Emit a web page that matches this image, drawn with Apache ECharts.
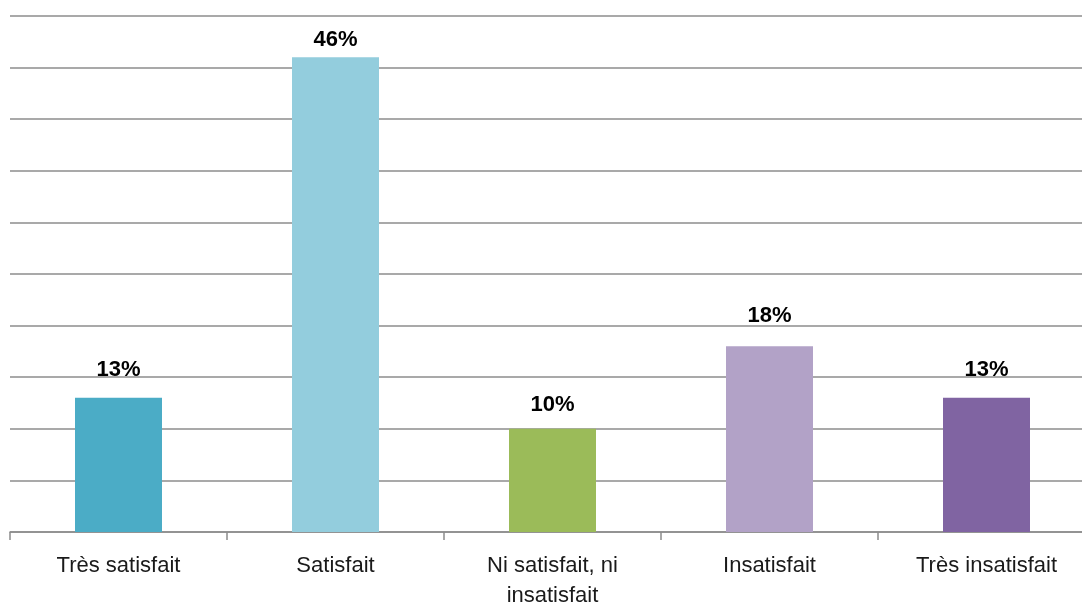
<!DOCTYPE html>
<html><head><meta charset="utf-8">
<script src="https://cdn.jsdelivr.net/npm/echarts@6/dist/echarts.min.js"></script>
<style>html,body{margin:0;padding:0;background:#fff}#c{width:1082px;height:606px}</style>
</head><body><div id="c"></div>
<script>
const categories = ['Très satisfait', 'Satisfait', 'Ni satisfait, ni\ninsatisfait', 'Insatisfait', 'Très insatisfait'];
const values = [13, 46, 10, 18, 13];
const colors = ['#4BACC6', '#93CDDD', '#9BBB59', '#B2A2C7', '#8064A2'];
const yTicks = [0, 5, 10, 15, 20, 25, 30, 35, 40, 45, 50];
const labelGaps = [17, 6, 13, 19, 17];

const font = '"Liberation Sans", Arial, sans-serif';
const chart = echarts.init(document.getElementById('c'));
chart.setOption({
  animation: false,
  grid: { left: 10, top: 16, right: -13, bottom: 74, containLabel: false, outerBoundsMode: 'none' },
  xAxis: {
    type: 'category', data: categories,
    axisLine: { lineStyle: { color: '#8c8c8c', width: 1.5 } },
    axisTick: { show: true, length: 8, lineStyle: { color: '#8c8c8c', width: 1.5 } },
    axisLabel: { color: '#1a1a1a', fontFamily: font, fontSize: 22, margin: 19, lineHeight: 30, interval: 0 }
  },
  yAxis: {
    type: 'value', min: yTicks[0], max: yTicks[yTicks.length - 1], interval: 5,
    axisLine: { show: false }, axisTick: { show: false }, axisLabel: { show: false },
    splitLine: { lineStyle: { color: '#8c8c8c', width: 1.5 } }
  },
  series: [{
    type: 'bar', barWidth: 87,
    data: values.map((v, i) => ({ value: v, itemStyle: { color: colors[i] }, label: { distance: labelGaps[i] } })),
    label: { show: true, position: 'top', formatter: '{c}%', color: '#000', fontFamily: font, fontWeight: 'bold', fontSize: 22 }
  }]
});
</script></body></html>
